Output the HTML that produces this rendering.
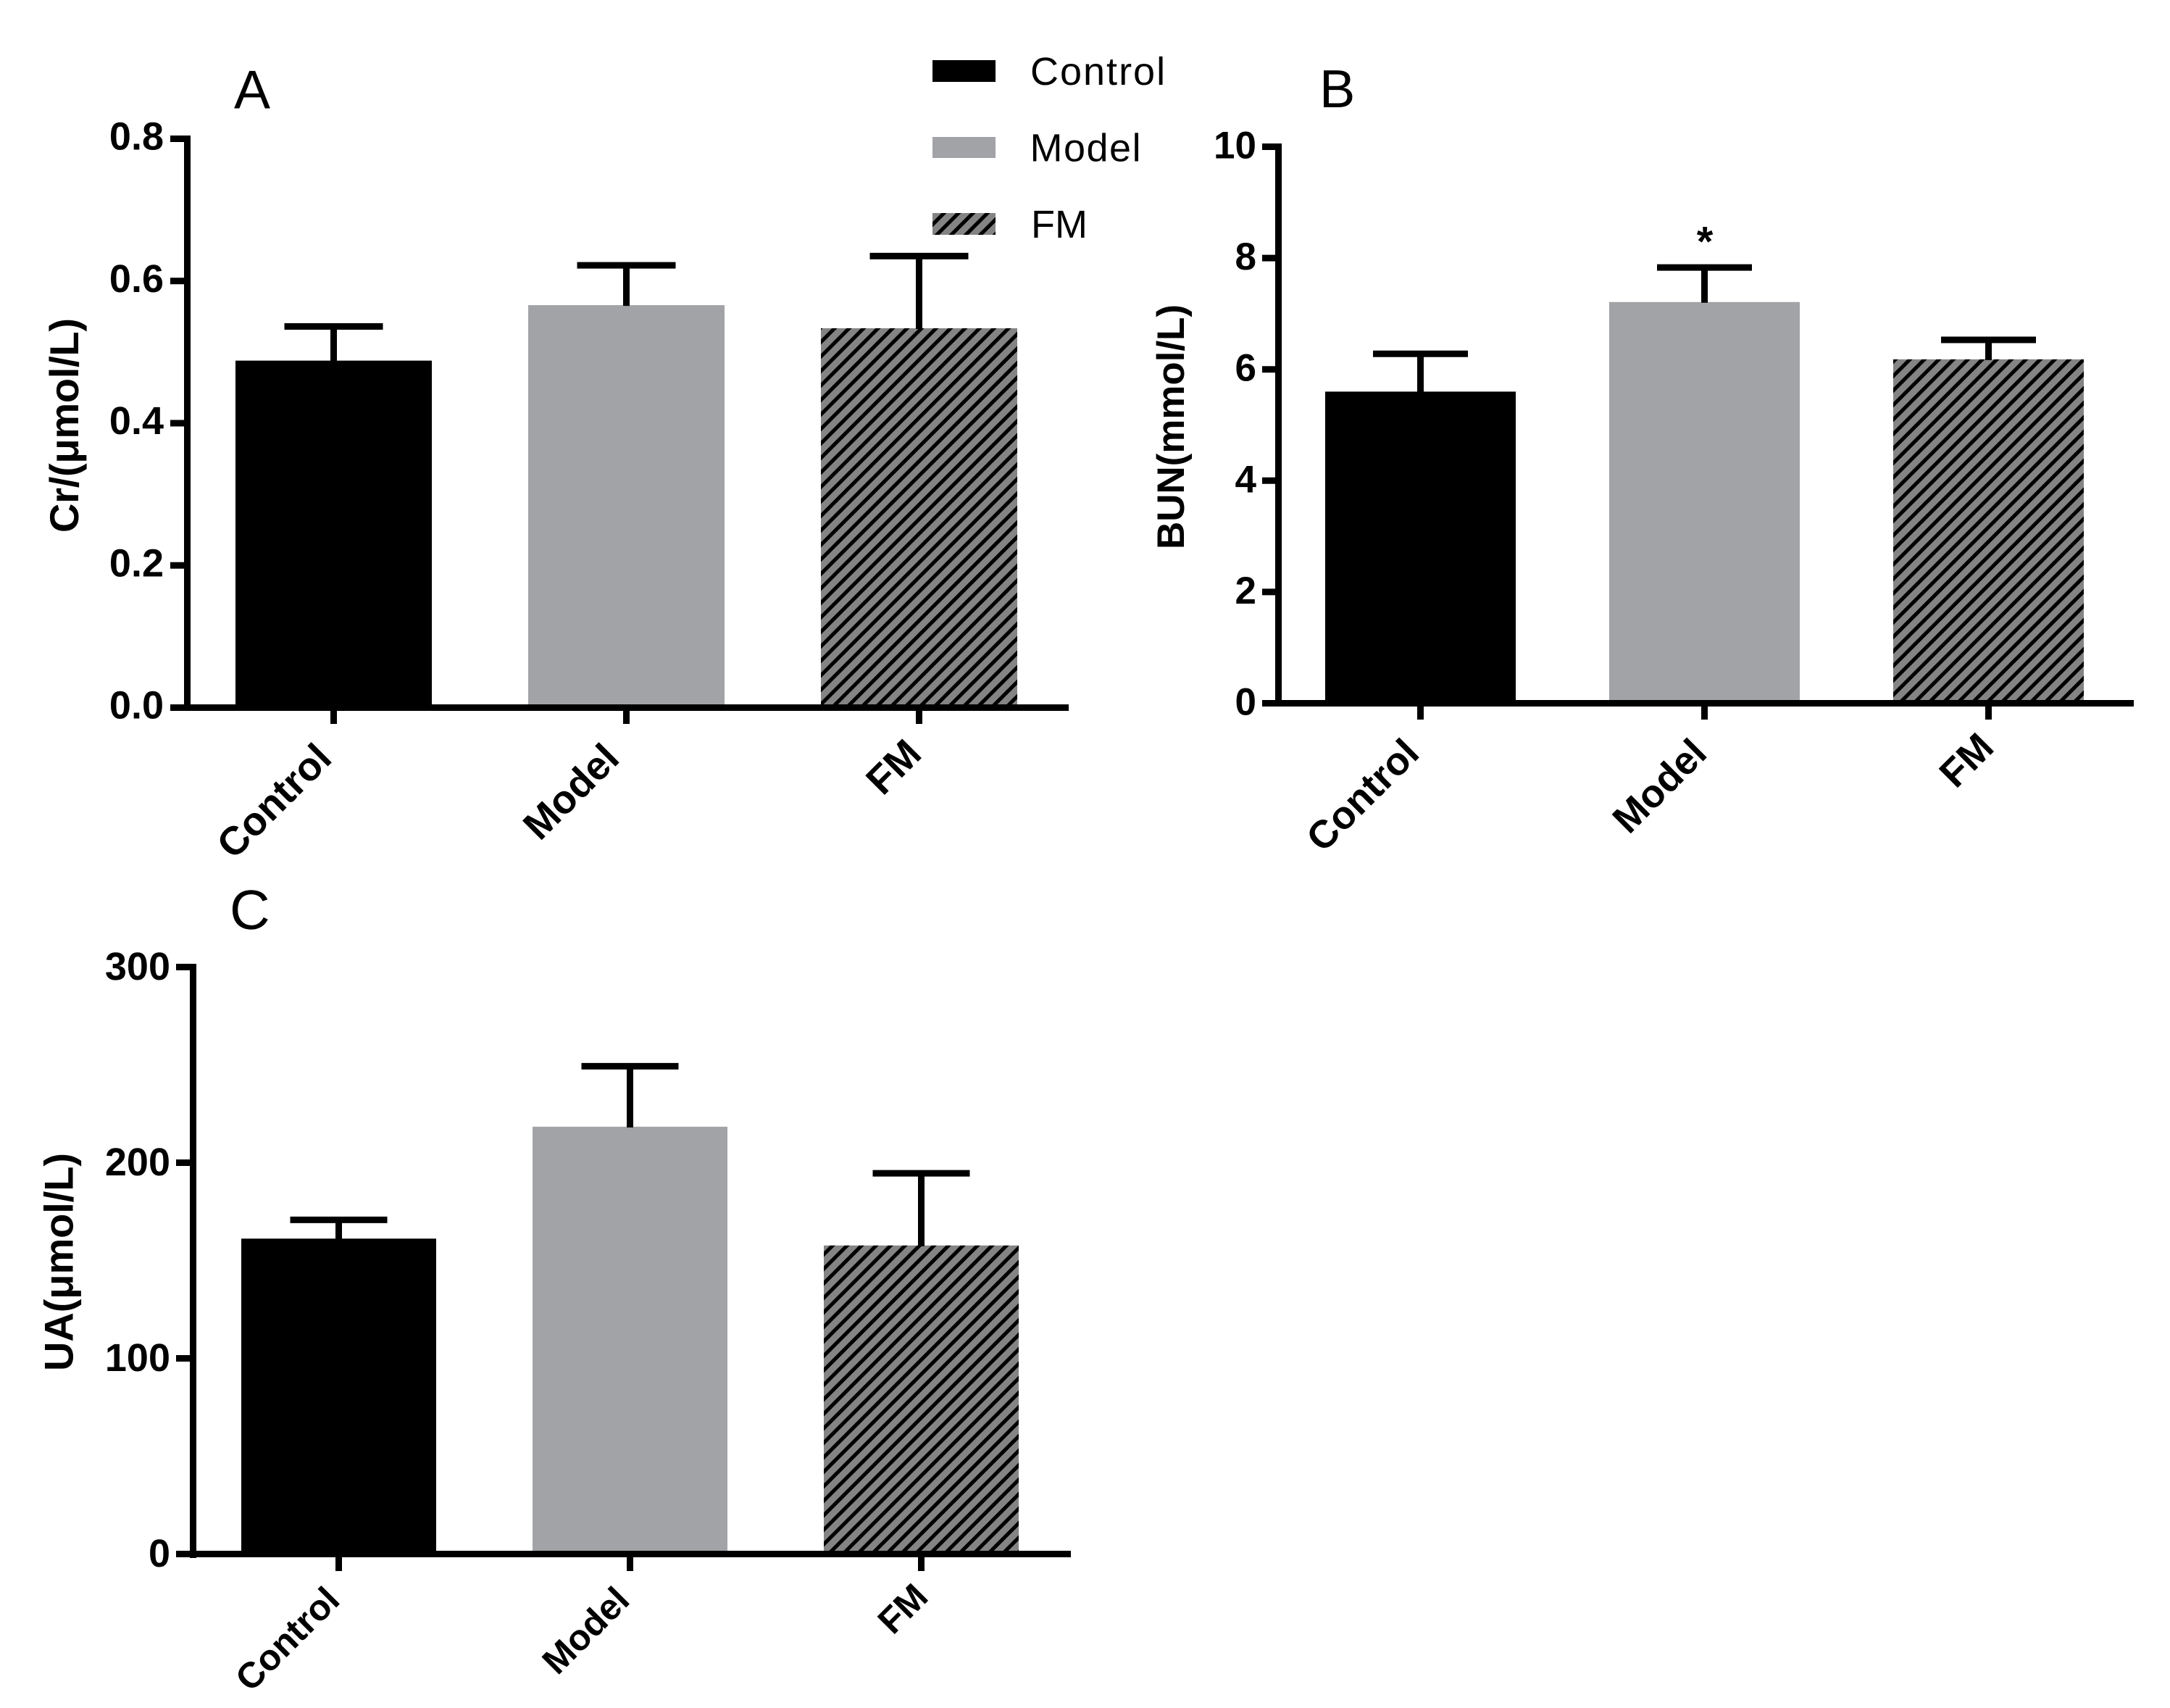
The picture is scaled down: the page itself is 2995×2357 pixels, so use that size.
<!DOCTYPE html>
<html lang="en">
<head>
<meta charset="utf-8">
<title>Renal function markers: Cr, BUN and UA</title>
<style>
html,body{margin:0;padding:0;background:#fff;}
svg{display:block;}
text{font-family:"Liberation Sans",Arial,sans-serif;fill:#000;text-rendering:geometricPrecision;}
.bold{font-weight:700;}
</style>
</head>
<body>
<svg id="figure" xmlns="http://www.w3.org/2000/svg" width="2995" height="2357" viewBox="0 0 2995 2357">
  <defs>
    <pattern id="hatch-a" width="20" height="20" patternUnits="userSpaceOnUse" patternTransform="translate(5,0)">
      <rect width="20" height="20" fill="#848484"/>
      <path d="M-5 25L25 -5M-5 5L5 -5M15 25L25 15" stroke="#000" stroke-width="5.1"/>
    </pattern>
    <pattern id="hatch-b" width="20" height="20" patternUnits="userSpaceOnUse" patternTransform="translate(12,0)">
      <rect width="20" height="20" fill="#848484"/>
      <path d="M-5 25L25 -5M-5 5L5 -5M15 25L25 15" stroke="#000" stroke-width="5.1"/>
    </pattern>
    <pattern id="hatch-c" width="20" height="20" patternUnits="userSpaceOnUse" patternTransform="translate(8,0)">
      <rect width="20" height="20" fill="#848484"/>
      <path d="M-5 25L25 -5M-5 5L5 -5M15 25L25 15" stroke="#000" stroke-width="5.1"/>
    </pattern>
    <pattern id="hatch-legend" width="20" height="20" patternUnits="userSpaceOnUse" patternTransform="translate(17,0)">
      <rect width="20" height="20" fill="#848484"/>
      <path d="M-5 25L25 -5M-5 5L5 -5M15 25L25 15" stroke="#000" stroke-width="5.1"/>
    </pattern>
  </defs>
  <rect width="2995" height="2357" fill="#fff"/>

  <g>
    <g>
      <rect x="1287" y="83" width="87" height="30" fill="#000"/>
      <text x="1422" y="117" font-size="54" letter-spacing="2">Control</text>
    </g>
    <g>
      <rect x="1287" y="189" width="87" height="29" fill="#a2a3a6"/>
      <text x="1421.5" y="222.5" font-size="54" letter-spacing="1.5">Model</text>
    </g>
    <g>
      <rect x="1287" y="294" width="87" height="30" fill="url(#hatch-legend)"/>
      <text x="1423" y="328" font-size="54">FM</text>
    </g>
  </g>

  <text x="323" y="149.5" font-size="75">A</text>
  <text x="1821" y="148" font-size="74">B</text>
  <text x="317" y="1282" font-size="77">C</text>

  <text class="bold" font-size="56" text-anchor="middle" textLength="296" transform="translate(108,587) rotate(-90)">Cr/(μmol/L)</text>
  <text class="bold" font-size="53" text-anchor="middle" textLength="338" transform="translate(1634,589) rotate(-90)">BUN(mmol/L)</text>
  <text class="bold" font-size="56" text-anchor="middle" textLength="301" transform="translate(100.5,1741.5) rotate(-90)">UA(μmol/L)</text>
</svg>

<script>
const categories = ['Control', 'Model', 'FM'];

const creatinineMeans = [0.488, 0.566, 0.5335];
const creatinineErrors = [0.048, 0.056, 0.1015];
const creatinineTicks = [0, 0.2, 0.4, 0.6, 0.8];
const creatinineTickLabels = ['0.0', '0.2', '0.4', '0.6', '0.8'];

const bunMeans = [5.6, 7.21, 6.18];
const bunErrors = [0.68, 0.62, 0.35];
const bunTicks = [0, 2, 4, 6, 8, 10];
const bunTickLabels = ['0', '2', '4', '6', '8', '10'];

const uricAcidMeans = [161.2, 218.4, 157.7];
const uricAcidErrors = [9.6, 30.9, 36.9];
const uricAcidTicks = [0, 100, 200, 300];
const uricAcidTickLabels = ['0', '100', '200', '300'];

const SVG_NS = 'http://www.w3.org/2000/svg';
const figure = document.getElementById('figure');

function make(tag, attrs, parent) {
  const node = document.createElementNS(SVG_NS, tag);
  for (const key in attrs) node.setAttribute(key, attrs[key]);
  parent.appendChild(node);
  return node;
}

function stroke(x1, y1, x2, y2, parent) {
  return make('line', {x1: x1, y1: y1, x2: x2, y2: y2, stroke: '#000', 'stroke-width': 9}, parent);
}

function drawPanel(p) {
  const group = make('g', {}, figure);
  
  

  const maxTick = p.ticks[p.ticks.length - 1];
  const yScale = function (v) { return p.y0 - (v / maxTick) * (p.y0 - p.yTop); };
  const xScale = function (i) { return p.x0 + i * p.step; };

  categories.forEach(function (cat, i) {
    const key = cat.toLowerCase();
    const top = yScale(p.means[i]);
    const fill = i === 0 ? '#000' : (i === 1 ? '#a2a3a6' : 'url(#' + p.hatch + ')');
    const bar = make('rect', {x: xScale(i) - p.barHalf, y: top, width: p.barHalf * 2, height: p.y0 - top, fill: fill}, group);
    
    

    const capY = yScale(p.means[i] + p.errors[i]);
    const stem = stroke(xScale(i), top + 1, xScale(i), capY, group);
    
    
    const cap = stroke(xScale(i) - p.capHalf, capY, xScale(i) + p.capHalf, capY, group);
    
    

    const tick = stroke(xScale(i), p.y0, xScale(i), p.xTickEnd, group);
    
    

    const label = make('text', {
      'class': 'bold',
      'font-size': p.catSize,
      'text-anchor': 'end',
      transform: 'translate(' + (xScale(i) + p.catDx[i]) + ',' + (p.y0 + p.catDy[i]) + ') rotate(-45)'
    }, group);
    label.textContent = cat;
    
    
  });

  const yAxis = make('line', {x1: p.xAxis, y1: p.yTop - 4.5, x2: p.xAxis, y2: p.y0 + p.axisOver, stroke: '#000', 'stroke-width': 9}, group);
  
  

  const xAxis = stroke(p.tickLeft, p.y0, p.xEnd, p.y0, group);
  
  

  p.ticks.forEach(function (t, i) {
    const y = yScale(t);
    const tick = stroke(p.tickLeft, y, p.xAxis, y, group);
    
    
    const label = make('text', {
      'class': 'bold',
      x: p.labelRight,
      y: y + p.labelDy,
      'font-size': p.labelSize,
      'text-anchor': 'end'
    }, group);
    label.textContent = p.tickLabels[i];
    
    
  });

  return {xScale: xScale, yScale: yScale, group: group};
}

drawPanel({
  id: 'a', means: creatinineMeans, errors: creatinineErrors, ticks: creatinineTicks, tickLabels: creatinineTickLabels,
  x0: 460.5, step: 404, barHalf: 135.5, capHalf: 68, y0: 976.5, yTop: 191.5, xAxis: 258.5, tickLeft: 235, xEnd: 1475,
  xTickEnd: 999, axisOver: 0, labelRight: 226, labelDy: 15, labelSize: 54, catSize: 55,
  catDx: [0.1, -7, 6], catDy: [73, 73, 67], hatch: 'hatch-a'
});

const panelB = drawPanel({
  id: 'b', means: bunMeans, errors: bunErrors, ticks: bunTicks, tickLabels: bunTickLabels,
  x0: 1960.5, step: 392, barHalf: 131.5, capHalf: 65.5, y0: 970.5, yTop: 202.5, xAxis: 1764.5, tickLeft: 1742, xEnd: 2945,
  xTickEnd: 993, axisOver: 0, labelRight: 1734, labelDy: 16, labelSize: 53, catSize: 54,
  catDx: [1, 6, 10], catDy: [72, 72, 64], hatch: 'hatch-b'
});

drawPanel({
  id: 'c', means: uricAcidMeans, errors: uricAcidErrors, ticks: uricAcidTicks, tickLabels: uricAcidTickLabels,
  x0: 467.5, step: 402, barHalf: 134.5, capHalf: 67, y0: 2144.5, yTop: 1334.5, xAxis: 266.5, tickLeft: 243, xEnd: 1478,
  xTickEnd: 2168, axisOver: 5.5, labelRight: 235, labelDy: 17.5, labelSize: 54, catSize: 50,
  catDx: [4, 2, 12], catDy: [66.5, 66.5, 62], hatch: 'hatch-c'
});

const star = make('text', {
  'class': 'bold',
  x: panelB.xScale(1) + 0.5,
  y: panelB.yScale(bunMeans[1] + bunErrors[1]) - 16,
  'font-size': 58,
  'text-anchor': 'middle'
}, panelB.group);
star.textContent = '*';


</script>
</body>
</html>
